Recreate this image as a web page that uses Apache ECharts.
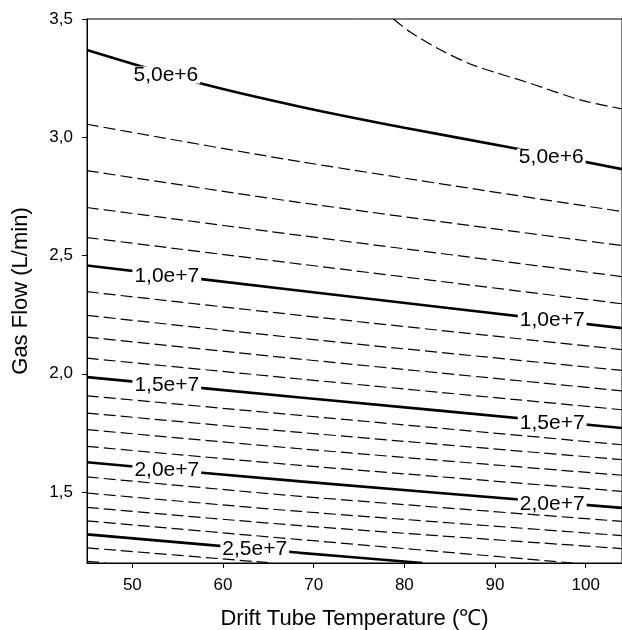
<!DOCTYPE html>
<html><head><meta charset="utf-8">
<script src="https://cdn.jsdelivr.net/npm/echarts@6/dist/echarts.min.js"></script>
<style>html,body{margin:0;padding:0;background:#fff}#c{width:622px;height:630px}</style>
</head><body><div id="c"></div>
<script>
// Axis ticks
const xTicks = [50, 60, 70, 80, 90, 100];
const yTicks = [1.5, 2.0, 2.5, 3.0, 3.5];

// Contour levels (every 1e6; every 5e6 is drawn solid and labelled)
const contourLevels = [4e6, 5e6, 6e6, 7e6, 8e6, 9e6, 1e7, 1.1e7, 1.2e7, 1.3e7, 1.4e7, 1.5e7,
  1.6e7, 1.7e7, 1.8e7, 1.9e7, 2e7, 2.1e7, 2.2e7, 2.3e7, 2.4e7, 2.5e7, 2.6e7, 2.7e7];

// Contour paths: [temperature, gas flow] pairs
const contourLines = [
  [[78.8,3.5],[80.6,3.446],[84,3.369],[87.6,3.305],[93.9,3.228],[99.4,3.158],[104,3.12]],
  [[45,3.369],[57.5,3.228],[68.5,3.129],[80,3.04],[92,2.955],[104,2.865]],
  [[45,3.055],[68.5,2.897],[104,2.686]],
  [[45,2.859],[68.5,2.724],[104,2.542]],
  [[45,2.703],[68.5,2.585],[104,2.411]],
  [[45,2.576],[68.5,2.464],[104,2.296]],
  [[45,2.458],[68.5,2.351],[104,2.193]],
  [[45,2.347],[68.5,2.247],[104,2.102]],
  [[45,2.247],[68.5,2.150],[104,2.014]],
  [[45,2.155],[68.5,2.062],[104,1.928]],
  [[45,2.066],[68.5,1.978],[104,1.848]],
  [[45,1.986],[68.5,1.900],[104,1.771]],
  [[45,1.907],[68.5,1.824],[104,1.700]],
  [[45,1.834],[68.5,1.752],[104,1.637]],
  [[45,1.764],[68.5,1.683],[104,1.571]],
  [[45,1.693],[68.5,1.613],[104,1.503]],
  [[45,1.626],[68.5,1.545],[104,1.433]],
  [[45,1.564],[68.5,1.482],[104,1.376]],
  [[45,1.496],[68.5,1.418],[104,1.316]],
  [[45,1.435],[68.5,1.358],[104,1.261]],
  [[45,1.378],[68.5,1.299],[98.6,1.2]],
  [[45,1.321],[68.5,1.243],[82,1.2]],
  [[45,1.264],[65.5,1.2]],
  [[45,1.207],[47,1.2]]
];

// Contour labels
const labelLevels = [5e6, 5e6, 1e7, 1e7, 1.5e7, 1.5e7, 2e7, 2e7, 2.5e7];
const labelTemps  = [53.7, 96.2, 53.8, 96.3, 53.8, 96.3, 53.8, 96.3, 63.5];
const labelFlows  = [3.263, 2.917, 2.414, 2.228, 1.952, 1.793, 1.594, 1.447, 1.259];

const FONT = '"Liberation Sans", Arial, sans-serif';
const fmtComma = v => Number(v).toFixed(1).replace('.', ',');
const fmtLevel = v => {
  const e = Math.floor(Math.log10(v) + 1e-9);
  return (v / Math.pow(10, e)).toFixed(1).replace('.', ',') + 'e+' + e;
};

const series = contourLevels.map((lv, i) => {
  const solid = Math.abs(lv % 5e6) < 1;
  return {
    type: 'line',
    data: contourLines[i],
    smooth: 0.3,
    symbol: 'none',
    clip: true,
    z: 2,
    silent: true,
    lineStyle: solid
      ? { color: '#000', width: 2.6, type: 'solid' }
      : { color: '#000', width: 1.2, type: [12, 5] }
  };
});

series.push({
  type: 'scatter',
  data: labelTemps.map((t, i) => [t, labelFlows[i], labelLevels[i]]),
  symbolSize: 1,
  itemStyle: { opacity: 0 },
  z: 10,
  silent: true,
  label: {
    show: true,
    position: 'inside',
    opacity: 1,
    formatter: p => fmtLevel(p.value[2]),
    fontFamily: FONT,
    fontSize: 21,
    color: '#000',
    backgroundColor: '#fff',
    padding: [0, 2],
    lineHeight: 17
  }
});

const chart = echarts.init(document.getElementById('c'), null, { renderer: 'canvas' });
chart.setOption({
  animation: false,
  backgroundColor: '#fff',
  grid: { left: 87, right: 0, top: 19, bottom: 67, show: true, borderColor: '#000', borderWidth: 1,
          containLabel: false, outerBoundsMode: 'none' },
  xAxis: {
    type: 'value', min: 45, max: 104,
    name: 'Drift Tube Temperature (\u2103)',
    nameLocation: 'middle', nameGap: 45,
    nameTextStyle: { fontFamily: FONT, fontSize: 22, color: '#000' },
    axisLine: { show: true, lineStyle: { color: '#000', width: 1 } },
    axisTick: { show: true, length: 5, lineStyle: { color: '#000' }, customValues: xTicks },
    axisLabel: { fontFamily: FONT, fontSize: 17, color: '#000', margin: 14, customValues: xTicks },
    splitLine: { show: false }
  },
  yAxis: {
    type: 'value', min: 1.2, max: 3.5,
    name: 'Gas Flow (L/min)',
    nameLocation: 'middle', nameGap: 55,
    nameTextStyle: { fontFamily: FONT, fontSize: 22, color: '#000' },
    axisLine: { show: true, lineStyle: { color: '#000', width: 1 } },
    axisTick: { show: true, length: 5, lineStyle: { color: '#000' }, customValues: yTicks },
    axisLabel: { fontFamily: FONT, fontSize: 17, color: '#000', margin: 14, customValues: yTicks, formatter: v => fmtComma(v) },
    splitLine: { show: false }
  },
  series: series
});
</script>
</body></html>
